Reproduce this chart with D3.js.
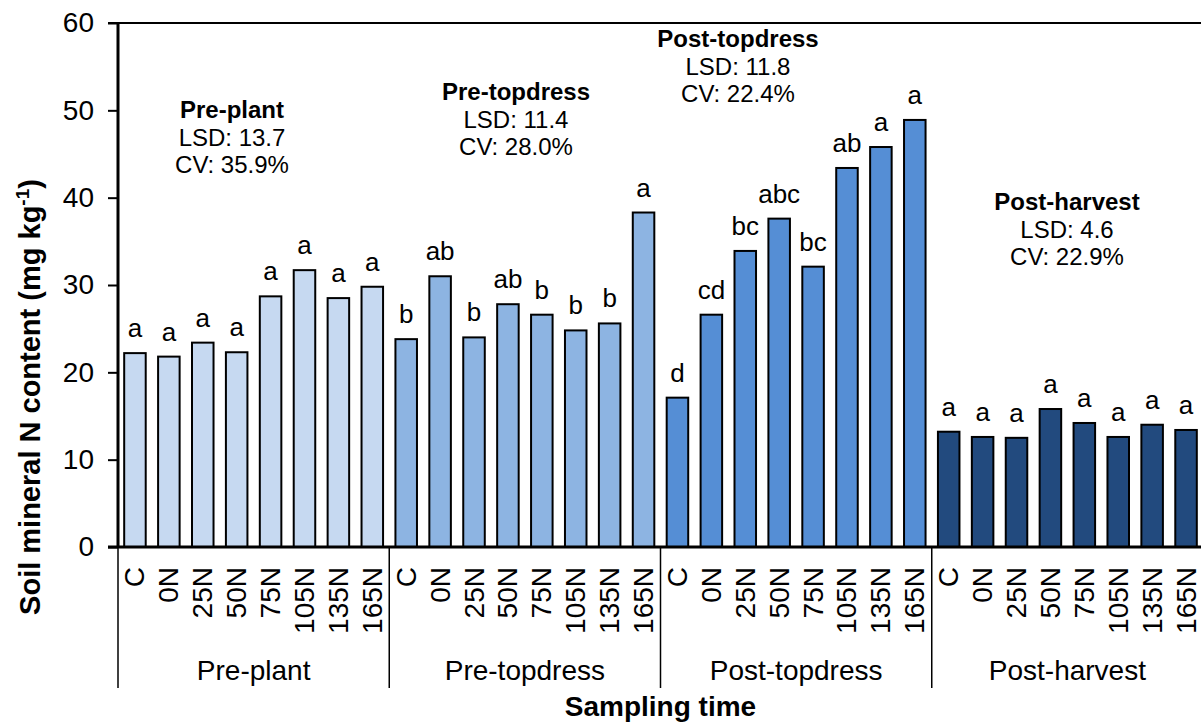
<!DOCTYPE html>
<html>
<head>
<meta charset="utf-8">
<script src="https://cdn.jsdelivr.net/npm/d3@7"></script>
<style>
  body { margin: 0; background: #fff; }
  svg { font-family: "Liberation Sans", Arial, sans-serif; }
</style>
</head>
<body>
<svg></svg>
<script>
const width = 1201;
const height = 724;

// data
const groups = ["Pre-plant", "Pre-topdress", "Post-topdress", "Post-harvest"];
const treatments = ["C", "0N", "25N", "50N", "75N", "105N", "135N", "165N"];
const prePlant = [22.2, 21.8, 23.4, 22.3, 28.7, 31.7, 28.5, 29.8];
const preTopdress = [23.8, 31.0, 24.0, 27.8, 26.6, 24.8, 25.6, 38.3];
const postTopdress = [17.1, 26.6, 33.9, 37.6, 32.1, 43.4, 45.8, 48.9];
const postHarvest = [13.2, 12.6, 12.5, 15.8, 14.2, 12.6, 14.0, 13.4];
const letters = [
    ["a", "a", "a", "a", "a", "a", "a", "a"],
    ["b", "ab", "b", "ab", "b", "b", "b", "a"],
    ["d", "cd", "bc", "abc", "bc", "ab", "a", "a"],
    ["a", "a", "a", "a", "a", "a", "a", "a"]
];
const lsd = ["13.7", "11.4", "11.8", "4.6"];
const cv = ["35.9%", "28.0%", "22.4%", "22.9%"];
const yTicks = [0, 10, 20, 30, 40, 50, 60];
const colors = ["#c6d9f1", "#8db4e2", "#558ed5", "#224a7e"];

// annotation anchors (top baseline) per group
const noteX = [232, 516, 738, 1067];
const noteY = [118, 100, 47, 210];

const series = [prePlant, preTopdress, postTopdress, postHarvest];
const data = [];
series.forEach((vals, gi) => {
    vals.forEach((v, ti) => {
        data.push({ group: groups[gi], gi: gi, t: treatments[ti], value: v, letter: letters[gi][ti] });
    });
});

const mLeft = 118, mRight = 1203, mTop = 23, mBottom = 547;

const svg = d3.select("svg")
    .attr("width", width)
    .attr("height", height);

const xScale = d3.scaleBand()
    .domain(data.map(d => d.group + "|" + d.t))
    .range([mLeft, mRight])
    .paddingInner(0.365)
    .paddingOuter(0.1825);

const groupScale = d3.scaleBand()
    .domain(groups)
    .range([mLeft, mRight]);

const yScale = d3.scaleLinear()
    .domain([0, 60])
    .range([mBottom, mTop]);

// y axis
const yAxis = d3.axisLeft(yScale).tickValues(yTicks).tickSize(10).tickPadding(14);
const yg = svg.append("g")
    .attr("transform", `translate(${mLeft},0)`)
    .call(yAxis);
yg.select(".domain").remove();
yg.selectAll(".tick line").attr("stroke", "#000").attr("stroke-width", 2);
yg.selectAll(".tick text")
    .attr("font-size", 28)
    .attr("font-family", "Liberation Sans, Arial, sans-serif")
    .attr("fill", "#000");

// bars
svg.selectAll(".bar")
    .data(data)
    .enter()
    .append("rect")
    .attr("class", "bar")
    .attr("x", d => xScale(d.group + "|" + d.t))
    .attr("y", d => yScale(d.value))
    .attr("width", xScale.bandwidth())
    .attr("height", d => yScale(0) - yScale(d.value))
    .attr("fill", d => colors[d.gi])
    .attr("stroke", "#000")
    .attr("stroke-width", 2);

// significance letters
svg.selectAll(".letter")
    .data(data)
    .enter()
    .append("text")
    .attr("class", "letter")
    .attr("x", d => xScale(d.group + "|" + d.t) + xScale.bandwidth() / 2)
    .attr("y", d => yScale(d.value) - 16)
    .attr("text-anchor", "middle")
    .attr("font-size", 26)
    .text(d => d.letter);

// frame lines
svg.append("line")
    .attr("x1", mLeft - 10).attr("x2", width)
    .attr("y1", mTop).attr("y2", mTop)
    .attr("stroke", "#000").attr("stroke-width", 2);
svg.append("line")
    .attr("x1", mLeft - 10).attr("x2", width)
    .attr("y1", mBottom).attr("y2", mBottom)
    .attr("stroke", "#000").attr("stroke-width", 3);
svg.append("line")
    .attr("x1", mLeft).attr("x2", mLeft)
    .attr("y1", mTop).attr("y2", mBottom)
    .attr("stroke", "#000").attr("stroke-width", 3);

// group dividers in the category area
svg.selectAll(".divider")
    .data(groups.concat(["end"]))
    .enter()
    .append("line")
    .attr("class", "divider")
    .attr("x1", (d, i) => mLeft + i * groupScale.bandwidth())
    .attr("x2", (d, i) => mLeft + i * groupScale.bandwidth())
    .attr("y1", mBottom)
    .attr("y2", 688)
    .attr("stroke", "#000")
    .attr("stroke-width", 1.5);

// treatment labels, rotated
svg.selectAll(".cat")
    .data(data)
    .enter()
    .append("text")
    .attr("class", "cat")
    .attr("transform", d => `translate(${xScale(d.group + "|" + d.t) + xScale.bandwidth() / 2},567) rotate(-90)`)
    .attr("text-anchor", "end")
    .attr("dominant-baseline", "central")
    .attr("font-size", 28)
    .text(d => d.t);

// group labels
svg.selectAll(".grp")
    .data(groups)
    .enter()
    .append("text")
    .attr("class", "grp")
    .attr("x", d => groupScale(d) + groupScale.bandwidth() / 2)
    .attr("y", 680)
    .attr("text-anchor", "middle")
    .attr("font-size", 28)
    .text(d => d);

// LSD / CV notes
groups.forEach((g, i) => {
    const t = svg.append("text")
        .attr("text-anchor", "middle")
        .attr("font-size", 24);
    t.append("tspan").attr("x", noteX[i]).attr("y", noteY[i]).attr("font-weight", "bold").text(g);
    t.append("tspan").attr("x", noteX[i]).attr("y", noteY[i] + 28).text("LSD: " + lsd[i]);
    t.append("tspan").attr("x", noteX[i]).attr("y", noteY[i] + 55).text("CV: " + cv[i]);
});

// axis titles
svg.append("text")
    .attr("x", (mLeft + mRight) / 2)
    .attr("y", 716)
    .attr("text-anchor", "middle")
    .attr("font-size", 28)
    .attr("font-weight", "bold")
    .text("Sampling time");

const yt = svg.append("text")
    .attr("transform", "translate(40,397) rotate(-90)")
    .attr("text-anchor", "middle")
    .attr("font-size", 29)
    .attr("font-weight", "bold");
yt.append("tspan").text("Soil mineral N content (mg kg");
yt.append("tspan").attr("font-size", 19).attr("dy", -11).text("-1");
yt.append("tspan").attr("dy", 11).text(")");
</script>
</body>
</html>
